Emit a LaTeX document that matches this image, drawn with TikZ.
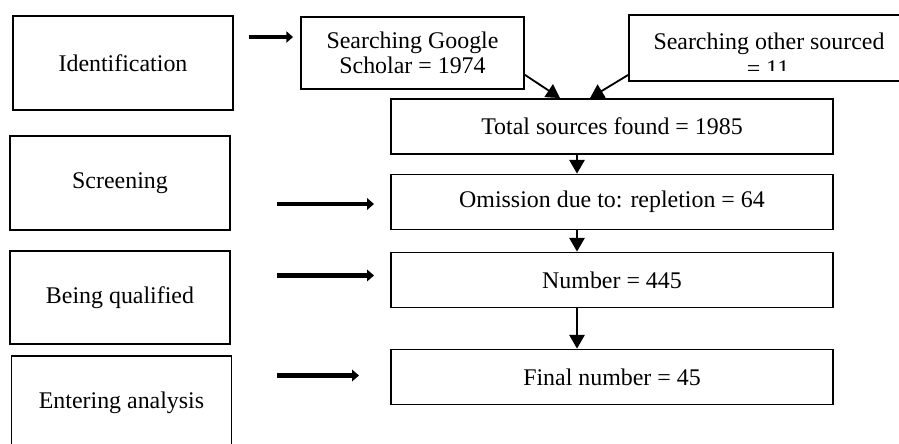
\documentclass[tikz,border=0pt]{standalone}
\usepackage{fontspec}
\setmainfont{Liberation Serif}
\usetikzlibrary{calc,positioning,arrows.meta}

\begin{document}
\begin{tikzpicture}[x=0.025cm,y=-0.025cm,
  stage/.style={draw,line width=1.3pt,minimum width=5.5cm,minimum height=2.35cm,inner sep=2pt},
  flow/.style={draw,line width=1.3pt,minimum width=11.05cm,minimum height=1.375cm,inner sep=2pt},
  src/.style={draw,line width=1.3pt,align=center,inner sep=2pt},
  side/.style={-{Triangle[length=1.7mm,width=2.8mm]},line width=2.9pt},
  down/.style={-{Triangle[length=3.4mm,width=3.8mm]},line width=1.3pt},
  font=\fontsize{17}{17.7}\selectfont]
            \useasboundingbox (0,0) rectangle (899,443);
            % stages on the left
            \node[stage] (ident) at (123,63) {Identification};
            \node[stage] (screen) at (120,183) {Screening};
            \node[stage,minimum height=2.325cm] (qual) at (120,297.5) {Being qualified};
            \node[stage] (enter) at (121.5,403) {Entering analysis};

            % sources
            \node[src,minimum width=5.575cm,minimum height=1.8cm] (google) at (412.5,53) {Searching Google\\Scholar = 1974};
            \node[src,minimum width=7cm,minimum height=1.65cm] (other) at (769,48) {};
            \node[anchor=base] (othertop) at (769,49) {Searching other sourced};
            \begin{scope}
              \clip (629,15) rectangle (909,70);
              \node[anchor=base] (otherbottom) at (768,76) {= 11};
            \end{scope}

            % flow on the right
            \node[flow] (total) at (612,126.5) {Total sources found = 1985};
            \node[flow] (omit) at (612,202) {Omission due to: repletion = 64};
            \node[flow] (number) at (612,280) {Number = 445};
            \node[flow] (final) at (612,377) {Final number = 45};

            \draw[down] (google.-11) -- ($(total.north)+(-52,0)$);
            \draw[down] ($(other.west)+(0,27)$) -- ($(total.north)+(-22,0)$);
            \draw[down] ($(total.south)+(-35,0)$) -- ($(omit.north)+(-35,0)$);
            \draw[down] ($(omit.south)+(-35,0)$) -- ($(number.north)+(-35,0)$);
            \draw[down] ($(number.south)+(-35,0)$) -- ($(final.north)+(-35,0)$);

            % arrows from the stages
            \coordinate (i1) at (249,37);
            \coordinate (s1) at (277,204);
            \coordinate (q1) at (277,275.5);
            \coordinate (e1) at (277,375.5);
            \draw[side,shorten >=0.175cm] (i1) -- (google.west |- i1);
            \draw[side,shorten >=0.4cm] (s1) -- (omit.west |- s1);
            \draw[side,shorten >=0.4cm] (q1) -- (number.west |- q1);
            \draw[side,shorten >=0.775cm] (e1) -- (final.west |- e1);
          \end{tikzpicture}
\end{document}
